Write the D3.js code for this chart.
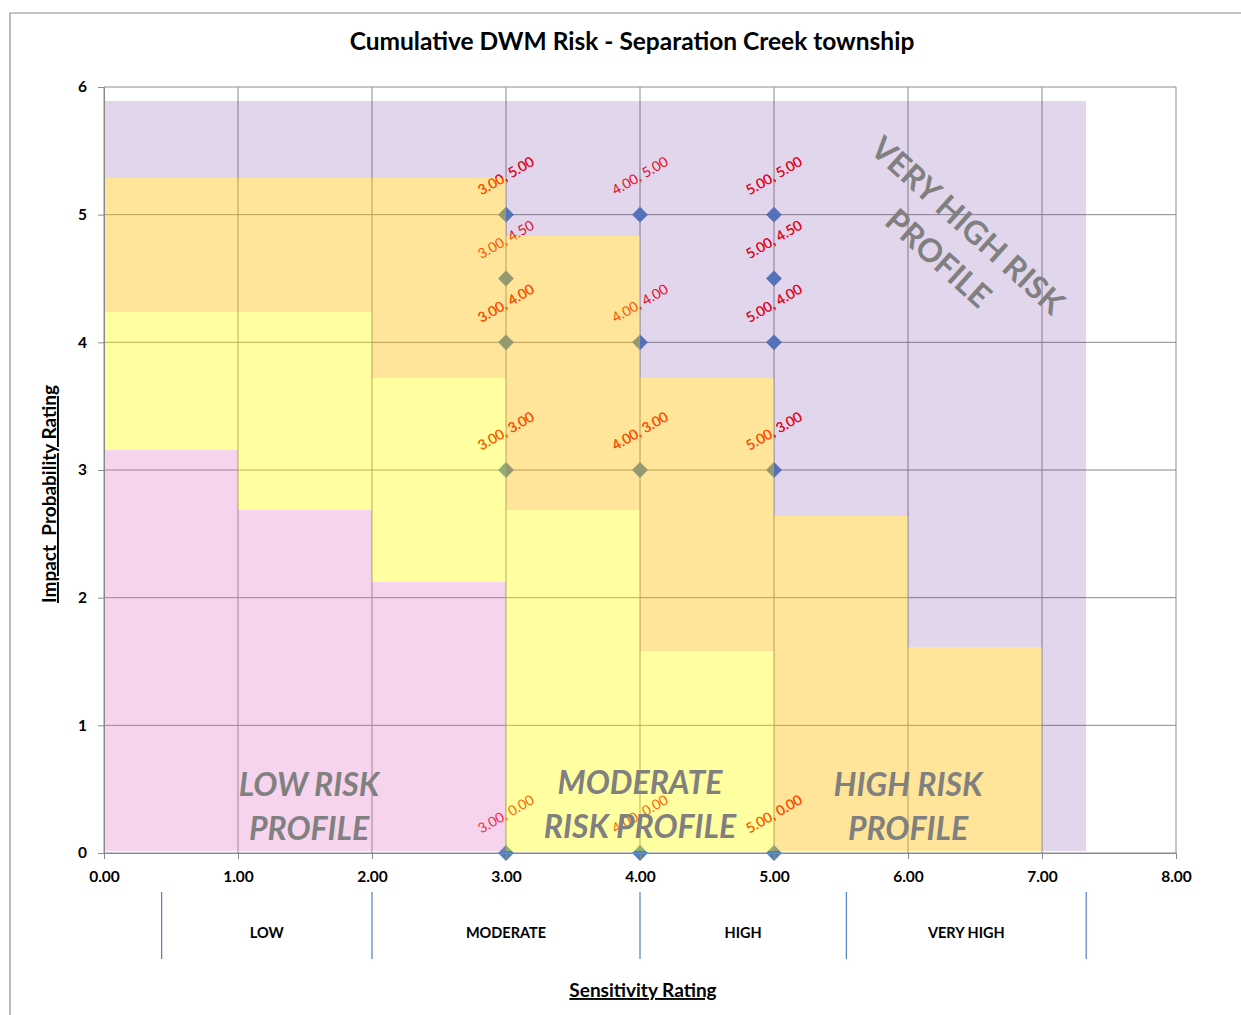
<!DOCTYPE html>
<html>
<head>
<meta charset="utf-8">
<script src="https://cdn.jsdelivr.net/npm/d3@7"></script>
<style>
  body { margin: 0; background: #fff; }
  svg { font-family: Lato, "Open Sans", sans-serif; }
</style>
</head>
<body>
<svg id="chart" width="1241" height="1015"></svg>
<script>
// risk zone steps: column edges on the sensitivity axis and the top of each zone per column
const columnEdges = [0, 1, 2, 3, 4, 5, 6, 7, 7.33];
const lowTop      = [3.16, 2.69, 2.12, 0, 0, 0, 0, 0];
const moderateTop = [4.24, 4.24, 3.72, 2.69, 1.58, 0, 0, 0];
const highTop     = [5.29, 5.29, 5.29, 4.83, 3.72, 2.64, 1.61, 0];
const veryHighTop = [5.89, 5.89, 5.89, 5.89, 5.89, 5.89, 5.89, 5.89];

// assessed sites (sensitivity, impact); count = sites sharing the same rating
const sensitivity = [3, 3, 3, 3, 3, 4, 4, 4, 4, 5, 5, 5, 5, 5];
const impact      = [5, 4.5, 4, 3, 0, 5, 4, 3, 0, 5, 4.5, 4, 3, 0];
const siteCount   = [2, 1, 2, 2, 1, 1, 1, 2, 1, 2, 2, 2, 2, 2];

const xTicks = [0, 1, 2, 3, 4, 5, 6, 7, 8];
const yTicks = [0, 1, 2, 3, 4, 5, 6];

// secondary category band under the x axis
const bandEdges = [0.43, 2, 4, 5.54, 7.33];
const bandNames = ["LOW", "MODERATE", "HIGH", "VERY HIGH"];

const svg = d3.select("#chart");
const margin = {top: 87, right: 65, bottom: 162, left: 104};
const width = 1241 - margin.left - margin.right;
const height = 1015 - margin.top - margin.bottom;

const x = d3.scaleLinear().domain([0, 8]).range([0, width]);
const y = d3.scaleLinear().domain([0, 6]).range([height, 0]);

// outer chart frame
svg.append("path").attr("d", "M10,1015V13H1241").attr("fill", "none").attr("stroke", "#8c8c8c").attr("stroke-width", 1.2);

svg.append("text").attr("x", 632).attr("y", 50).attr("text-anchor", "middle")
  .attr("font-size", 24.5).attr("font-weight", 700).attr("fill", "#000")
  .text("Cumulative DWM Risk - Separation Creek township");

const g = svg.append("g").attr("transform", `translate(${margin.left},${margin.top})`);

// gridlines
g.append("g").selectAll("line").data(xTicks).join("line")
  .attr("x1", d => x(d)).attr("x2", d => x(d)).attr("y1", 0).attr("y2", height)
  .attr("stroke", "#8a8a8a").attr("stroke-width", 1);
g.append("g").selectAll("line").data(yTicks).join("line")
  .attr("x1", 0).attr("x2", width).attr("y1", d => y(d)).attr("y2", d => y(d))
  .attr("stroke", "#8a8a8a").attr("stroke-width", 1);

// points and their labels (sit under the translucent zones)
const sites = sensitivity.map((s, i) => ({s, v: impact[i], n: siteCount[i]}));
const diamond = d3.symbol().type(d3.symbolDiamond2).size(160);
g.append("g").selectAll("path").data(sites).join("path")
  .attr("d", diamond)
  .attr("transform", d => `translate(${x(d.s)},${y(d.v)})`)
  .attr("fill", "#4f81bd");

const fmt = d3.format(".2f");
const labelRows = sites.flatMap(d => d3.range(d.n).map(() => d));
g.append("g").selectAll("text").data(labelRows).join("text")
  .attr("transform", d => `translate(${x(d.s)},${y(d.v) - 39}) rotate(-30)`)
  .attr("text-anchor", "middle").attr("dy", "0.35em")
  .attr("font-size", 14).attr("fill", "#ff0000")
  .text(d => `${fmt(d.s)}, ${fmt(d.v)}`);

// risk zones, stacked per column
const zones = [
  {tops: lowTop, color: "#e56fc8", opacity: 0.3},
  {tops: moderateTop, color: "#ffff00", opacity: 0.37},
  {tops: highTop, color: "#ffbf00", opacity: 0.4},
  {tops: veryHighTop, color: "#7030a0", opacity: 0.2}
];
const cells = [];
zones.forEach((z, k) => {
  z.tops.forEach((top, i) => {
    const bottom = k === 0 ? 0 : zones[k - 1].tops[i];
    if (top > bottom) cells.push({x0: columnEdges[i], x1: columnEdges[i + 1], bottom, top, z});
  });
});
g.append("g").selectAll("rect").data(cells).join("rect")
  .attr("x", d => x(d.x0))
  .attr("width", d => x(d.x1) - x(d.x0))
  .attr("y", d => y(d.top))
  .attr("height", d => (d.bottom === 0 ? y(0) - 2 : y(d.bottom)) - y(d.top))
  .attr("fill", d => d.z.color).attr("fill-opacity", d => d.z.opacity)
  .attr("shape-rendering", "crispEdges");

// zone captions
const caption = (cx, cy, lines, italic, angle) => {
  const t = g.append("text")
    .attr("transform", `translate(${x(cx)},${y(cy)}) rotate(${angle})`)
    .attr("text-anchor", "middle").attr("font-size", 32).attr("font-weight", 700)
    .attr("font-style", italic ? "italic" : "normal").attr("fill", "#808080");
  lines.forEach((l, i) => t.append("tspan").attr("x", 0).attr("dy", i === 0 ? 0 : 44).text(l));
};
caption(1.53, 0.45, ["LOW RISK", "PROFILE"], true, 0);
caption(4.0, 0.46, ["MODERATE", "RISK PROFILE"], true, 0);
caption(6.0, 0.45, ["HIGH RISK", "PROFILE"], true, 0);
caption(6.39, 4.85, ["VERY HIGH RISK", "PROFILE"], false, 42);

// axes
const xAxis = g.append("g").attr("transform", `translate(0,${height})`)
  .call(d3.axisBottom(x).tickValues(xTicks).tickFormat(fmt).tickSize(6).tickPadding(12));
const yAxis = g.append("g")
  .call(d3.axisLeft(y).tickValues(yTicks).tickFormat(d3.format("d")).tickSize(6).tickPadding(11));
[xAxis, yAxis].forEach(a => {
  a.select(".domain").attr("stroke", "#8a8a8a");
  a.selectAll(".tick line").attr("stroke", "#8a8a8a");
  a.selectAll(".tick text").attr("font-size", 15.5).attr("font-weight", 700).attr("fill", "#000")
    .attr("font-family", "Lato, sans-serif");
});

// category band
g.append("g").selectAll("line").data(bandEdges).join("line")
  .attr("x1", d => x(d)).attr("x2", d => x(d))
  .attr("y1", height + 39).attr("y2", height + 106)
  .attr("stroke", "#4f81bd").attr("stroke-width", 1.2);
g.append("g").selectAll("text").data(bandNames).join("text")
  .attr("x", (d, i) => x((bandEdges[i] + bandEdges[i + 1]) / 2))
  .attr("y", height + 85)
  .attr("text-anchor", "middle").attr("font-size", 14.5).attr("font-weight", 700).attr("fill", "#000")
  .text(d => d);

// axis titles
svg.append("text").attr("x", 643).attr("y", 997).attr("text-anchor", "middle")
  .attr("font-size", 19).attr("font-weight", 700).attr("text-decoration", "underline")
  .text("Sensitivity Rating");
svg.append("text").attr("transform", "translate(56,494) rotate(-90)").attr("text-anchor", "middle")
  .attr("font-size", 19).attr("font-weight", 700).attr("text-decoration", "underline")
  .attr("xml:space", "preserve").style("white-space", "pre")
  .text("Impact  Probability Rating");
</script>
</body>
</html>
